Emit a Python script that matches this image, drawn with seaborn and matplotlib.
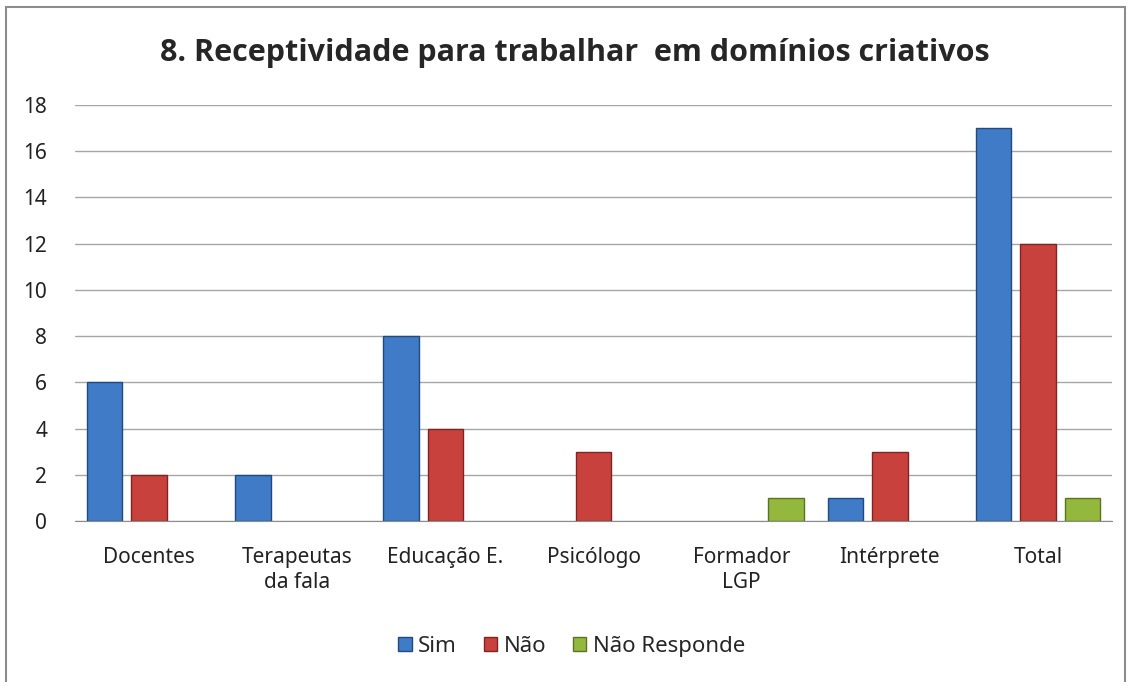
import pandas as pd
import matplotlib.pyplot as plt
import seaborn as sns
from matplotlib.patches import Rectangle, Patch

# dados do gráfico
categorias = ["Docentes", "Terapeutas\nda fala", "Educação E.", "Psicólogo",
              "Formador\nLGP", "Intérprete", "Total"]
sim = [6, 2, 8, 0, 0, 1, 17]
nao = [2, 0, 4, 3, 0, 3, 12]
nao_responde = [0, 0, 0, 0, 1, 0, 1]
series = ["Sim", "Não", "Não Responde"]
cores = ["#3F7BC6", "#C9413D", "#93B83D"]
bordas = ["#234A7E", "#7E2422", "#5A7522"]

df = pd.DataFrame({"Categoria": categorias, "Sim": sim, "Não": nao,
                   "Não Responde": nao_responde})
df_long = df.melt(id_vars="Categoria", var_name="Resposta", value_name="Valor")
df_long = df_long[df_long["Valor"] > 0]  # barras de zero não aparecem

sns.set_style("white")
plt.rcParams["font.family"] = ["Noto Sans", "DejaVu Sans"]

fig = plt.figure(figsize=(11.32, 6.82), dpi=100)
ax = fig.add_axes([0.0663, 0.236, 0.916, 0.610])

sns.barplot(data=df_long, x="Categoria", y="Valor", hue="Resposta",
            order=categorias, hue_order=series, palette=cores,
            width=0.9, gap=0.2, dodge=True, saturation=1,
            linewidth=1, ax=ax, legend=False)

# bordas mais escuras em cada série
for cont, borda in zip(ax.containers, bordas):
    for barra in cont:
        barra.set_edgecolor(borda)

ax.set_ylim(0, 18)
ax.set_yticks(range(0, 19, 2))
ax.set_xlim(-0.5, len(categorias) - 0.5)
ax.yaxis.grid(True, color="#A6A6A6", linewidth=1)
ax.set_axisbelow(True)
for lado in ["left", "right", "top"]:
    ax.spines[lado].set_visible(False)
ax.spines["bottom"].set_color("#8C8C8C")
ax.tick_params(axis="both", length=0, labelsize=15, colors="#222222")
ax.tick_params(axis="x", pad=19)
ax.tick_params(axis="y", pad=20)
ax.set_xlabel("")
ax.set_ylabel("")

fig.text(0.508, 0.922, "8. Receptividade para trabalhar  em domínios criativos",
         ha="center", va="center", fontsize=22, fontweight="bold",
         family=["Open Sans", "DejaVu Sans"])

handles = [Patch(facecolor=c, edgecolor=b, label=s)
           for s, c, b in zip(series, cores, bordas)]
fig.legend(handles=handles, loc="center", bbox_to_anchor=(0.505, 0.052),
           ncol=3, frameon=False, fontsize=16, handlelength=0.6,
           handleheight=0.6, handletextpad=0.3, columnspacing=1.2)

# moldura do gráfico
fig.patches.append(Rectangle((0.005, -0.01), 0.989, 1.0, transform=fig.transFigure,
                             fill=False, edgecolor="#8C8C8C", linewidth=1.5))

fig.savefig("out.png", dpi=100)
